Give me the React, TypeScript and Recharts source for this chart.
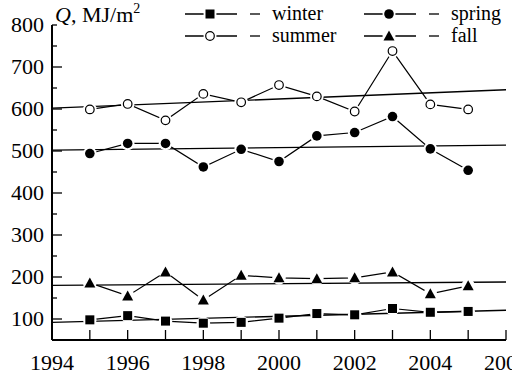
import { LineChart, Line, XAxis, YAxis } from "recharts";

// seasonal totals
const years = [1995, 1996, 1997, 1998, 1999, 2000, 2001, 2002, 2003, 2004, 2005];
const winter = [98, 108, 95, 90, 92, 102, 113, 110, 125, 116, 118];
const spring = [494, 518, 518, 462, 504, 475, 536, 544, 582, 505, 454];
const summer = [599, 612, 573, 636, 616, 657, 630, 594, 738, 611, 599];
const fall = [186, 155, 212, 145, 204, 198, 196, 198, 212, 160, 179];

// linear trends (end points)
const trendYears = [1994, 2006];
const winterTrend = [92, 121];
const springTrend = [502, 514];
const summerTrend = [602, 646];
const fallTrend = [180, 188];

const yTicks = [100, 150, 200, 250, 300, 350, 400, 450, 500, 550, 600, 650, 700, 750, 800];
const xTicks = [1994, 1995, 1996, 1997, 1998, 1999, 2000, 2001, 2002, 2003, 2004, 2005, 2006];

const seasonData = years.map((year, i) => ({
  year,
  winter: winter[i],
  spring: spring[i],
  summer: summer[i],
  fall: fall[i],
}));

const trendData = trendYears.map((year, i) => ({
  year,
  winter: winterTrend[i],
  spring: springTrend[i],
  summer: summerTrend[i],
  fall: fallTrend[i],
}));

const FONT = "Liberation Serif";
const txt = { fontFamily: FONT, fill: "#000" };
const W = 512;
const H = 374;
const LEFT = 52;
const TOP = 25;
const RIGHT = 506;
const BOTTOM = 340;

type Shape = "square" | "circle" | "open" | "triangle";

const Marker = ({ shape, cx, cy }: { shape: Shape; cx: number; cy: number }) => {
  if (shape === "square")
    return <rect x={cx - 4.5} y={cy - 4.5} width={9} height={9} fill="#000" />;
  if (shape === "circle") return <circle cx={cx} cy={cy} r={4.8} fill="#000" />;
  if (shape === "open")
    return <circle cx={cx} cy={cy} r={4.3} fill="#fff" stroke="#000" strokeWidth={1.2} />;
  return (
    <polygon
      points={`${cx},${cy - 5.5} ${cx - 5.5},${cy + 4.5} ${cx + 5.5},${cy + 4.5}`}
      fill="#000"
    />
  );
};

const makeDot = (shape: Shape) => (props: any) => {
  const { cx, cy, index } = props;
  return (
    <g key={`${shape}-${index}`}>
      <circle cx={cx} cy={cy} r={6.8} fill="#fff" />
      <Marker shape={shape} cx={cx} cy={cy} />
    </g>
  );
};

const YTick = (props: any) => {
  const { y, payload } = props;
  const v = payload.value;
  const major = v % 100 === 0;
  const len = major && v !== 800 ? 10 : 5;
  return (
    <g>
      <line x1={LEFT} x2={LEFT + len} y1={y} y2={y} stroke="#000" strokeWidth={1.3} />
      {major && (
        <text x={44} y={y} dy="0.34em" textAnchor="end" style={{ ...txt, fontSize: 22 }}>
          {v}
        </text>
      )}
    </g>
  );
};

const XTick = (props: any) => {
  const { x, payload } = props;
  const v = payload.value;
  return (
    <g>
      <line x1={x} x2={x} y1={BOTTOM} y2={BOTTOM - 10} stroke="#000" strokeWidth={1.3} />
      {v % 2 === 0 && (
        <text x={x} y={370} textAnchor="middle" style={{ ...txt, fontSize: 22 }}>
          {v}
        </text>
      )}
    </g>
  );
};

const legendItems: { name: string; shape: Shape; x: number; y: number }[] = [
  { name: "winter", shape: "square", x: 185, y: 14 },
  { name: "spring", shape: "circle", x: 364, y: 14 },
  { name: "summer", shape: "open", x: 185, y: 36 },
  { name: "fall", shape: "triangle", x: 364, y: 36 },
];

const Overlay = () => (
  <svg
    width={W}
    height={H}
    style={{ position: "absolute", left: 0, top: 0, pointerEvents: "none" }}
  >
    <text x={55} y={22} style={{ ...txt, fontSize: 22 }}>
      <tspan fontStyle="italic">Q</tspan>
      <tspan>, MJ/m</tspan>
      <tspan fontSize={14} dy={-9}>2</tspan>
    </text>
    {legendItems.map((it) => (
      <g key={it.name}>
        <line x1={it.x} x2={it.x + 52} y1={it.y} y2={it.y} stroke="#000" strokeWidth={1.3} />
        <circle cx={it.x + 25} cy={it.y} r={6.5} fill="#fff" />
        <Marker shape={it.shape} cx={it.x + 25} cy={it.y} />
        <line x1={it.x + 65} x2={it.x + 75} y1={it.y} y2={it.y} stroke="#000" strokeWidth={1.3} />
        <text x={it.x + 87} y={it.y + 6} style={{ ...txt, fontSize: 20 }}>
          {it.name}
        </text>
      </g>
    ))}
  </svg>
);

export default function App() {
  return (
    <div style={{ position: "absolute", left: 0, top: 0, width: W, height: H, background: "#fff" }}>
      <LineChart
        width={W}
        height={H}
        margin={{ top: TOP, right: W - RIGHT, bottom: 0, left: 0 }}
      >
        <XAxis
          type="number"
          dataKey="year"
          domain={[1994, 2006]}
          ticks={xTicks}
          allowDataOverflow
          height={H - BOTTOM}
          axisLine={{ stroke: "#000", strokeWidth: 2 }}
          tickLine={false}
          tick={XTick}
          interval={0}
        />
        <YAxis
          type="number"
          domain={[50, 800]}
          ticks={yTicks}
          allowDataOverflow
          width={LEFT}
          axisLine={{ stroke: "#000", strokeWidth: 2 }}
          tickLine={false}
          tick={YTick}
          interval={0}
        />
        <Line data={trendData} dataKey="winter" stroke="#000" strokeWidth={1.4} dot={false} isAnimationActive={false} />
        <Line data={trendData} dataKey="spring" stroke="#000" strokeWidth={1.4} dot={false} isAnimationActive={false} />
        <Line data={trendData} dataKey="summer" stroke="#000" strokeWidth={1.4} dot={false} isAnimationActive={false} />
        <Line data={trendData} dataKey="fall" stroke="#000" strokeWidth={1.4} dot={false} isAnimationActive={false} />
        <Line data={seasonData} dataKey="winter" stroke="#000" strokeWidth={1.2} dot={makeDot("square")} isAnimationActive={false} />
        <Line data={seasonData} dataKey="spring" stroke="#000" strokeWidth={1.2} dot={makeDot("circle")} isAnimationActive={false} />
        <Line data={seasonData} dataKey="summer" stroke="#000" strokeWidth={1.2} dot={makeDot("open")} isAnimationActive={false} />
        <Line data={seasonData} dataKey="fall" stroke="#000" strokeWidth={1.2} dot={makeDot("triangle")} isAnimationActive={false} />
      </LineChart>
      <Overlay />
    </div>
  );
}
